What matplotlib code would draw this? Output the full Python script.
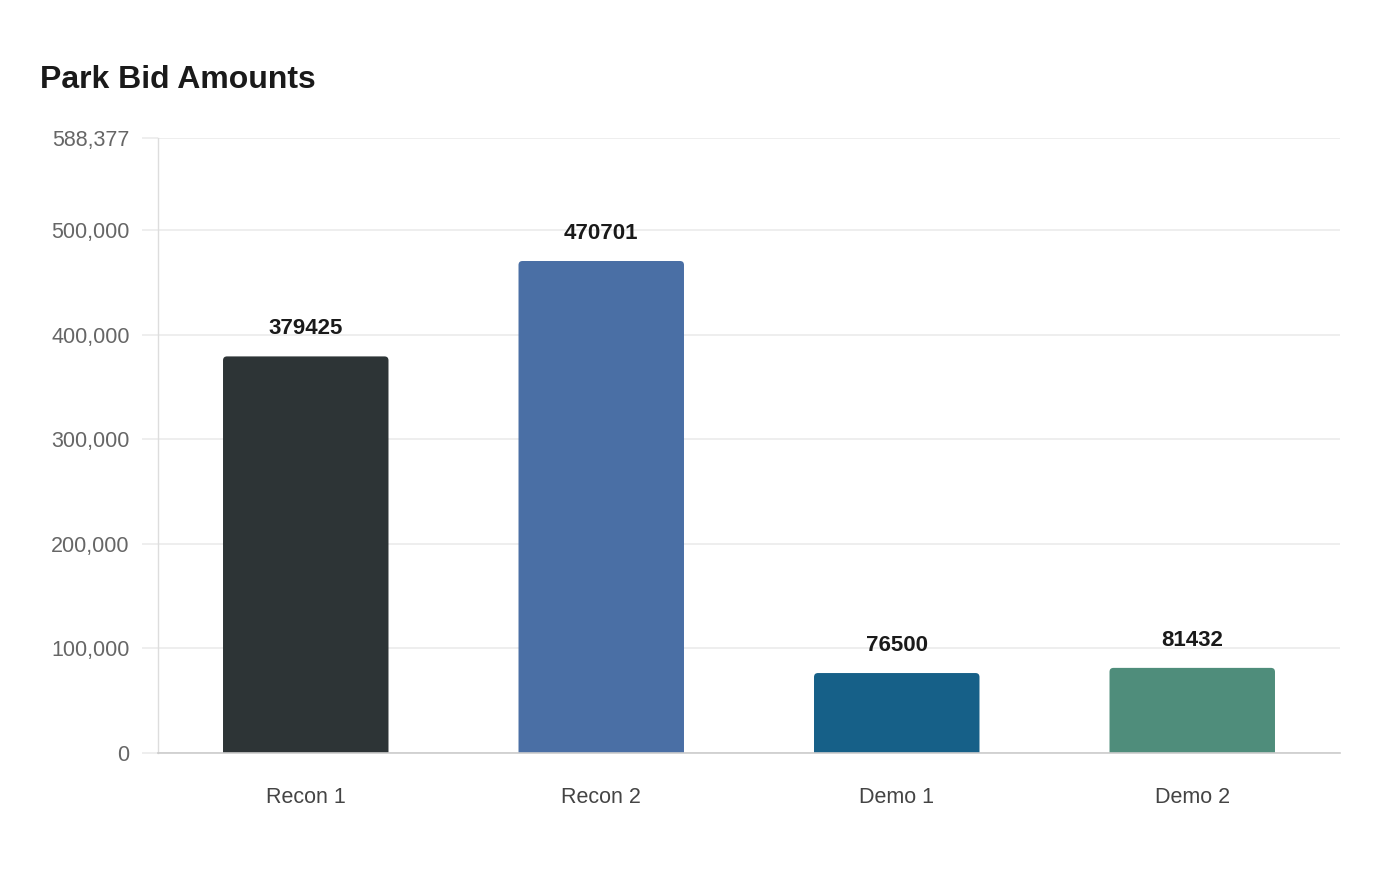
import matplotlib
matplotlib.use("Agg")
import matplotlib.pyplot as plt
from matplotlib.ticker import FixedLocator, FuncFormatter
from matplotlib.patches import FancyBboxPatch

categories = ["Recon 1", "Recon 2", "Demo 1", "Demo 2"]
values = [379425, 470701, 76500, 81432]
colors = ["#2d3436", "#4a6fa5", "#166088", "#4f8d7b"]
y_ticks = [0, 100000, 200000, 300000, 400000, 500000, 588377]
y_max = 588377
title = "Park Bid Amounts"

plt.rcParams['font.family'] = ['Liberation Sans', 'DejaVu Sans']

fig = plt.figure(figsize=(14, 8.8), dpi=100)
ax_w_px, ax_h_px = 1340 - 158, 753 - 138
ax = fig.add_axes([158/1400, 1-753/880, ax_w_px/1400, ax_h_px/880])

x = list(range(len(categories)))
bars = ax.bar(x, values, width=0.56, color=colors, zorder=3)

ax.set_xlim(-0.5, len(categories) - 0.5)
ax.set_ylim(0, y_max)

# rounded top corners (radius ~4 px)
x_per_px = (len(categories)) / ax_w_px
y_per_px = y_max / ax_h_px
aspect = y_per_px / x_per_px
radius = 4 * x_per_px
for rect in bars:
    bx, by, bw, bh = rect.get_x(), rect.get_y(), rect.get_width(), rect.get_height()
    rect.set_visible(False)
    ext = 6 * y_per_px
    p = FancyBboxPatch((bx, by - ext), bw, bh + ext,
                       boxstyle=f"round,pad=0,rounding_size={radius}",
                       mutation_aspect=aspect, facecolor=rect.get_facecolor(),
                       edgecolor='none', zorder=3, clip_on=True)
    ax.add_patch(p)

ax.yaxis.set_major_locator(FixedLocator(y_ticks))
ax.yaxis.set_major_formatter(FuncFormatter(lambda v, p: f"{int(round(v)):,}"))
ax.set_xticks(x)
ax.set_xticklabels(categories)

ax.grid(axis='y', color='#ebebeb', linewidth=1.2, zorder=0)
ax.tick_params(axis='y', length=11.5, width=1.2, color='#ebebeb', pad=9,
               labelsize=15.5, labelcolor='#666666')
ax.tick_params(axis='x', length=0, pad=24.5, labelsize=15.5, labelcolor='#444444')

for s in ['top', 'right']:
    ax.spines[s].set_visible(False)
ax.spines['left'].set_color('#dddddd')
ax.spines['left'].set_linewidth(1.0)
ax.spines['bottom'].set_color('#cccccc')
ax.spines['bottom'].set_linewidth(1.2)
ax.spines['bottom'].set_zorder(4)

for xi, v in zip(x, values):
    ax.annotate(str(v), (xi, v), xytext=(0, 20), textcoords='offset points',
                ha='center', va='center', fontsize=16, fontweight='bold',
                color='#1a1a1a', zorder=5)

fig.text(40/1400, 1-80/880, title, fontsize=23, fontweight='bold',
         color='#1a1a1a', ha='left', va='center')

fig.savefig("out.png", dpi=100, facecolor='white')
